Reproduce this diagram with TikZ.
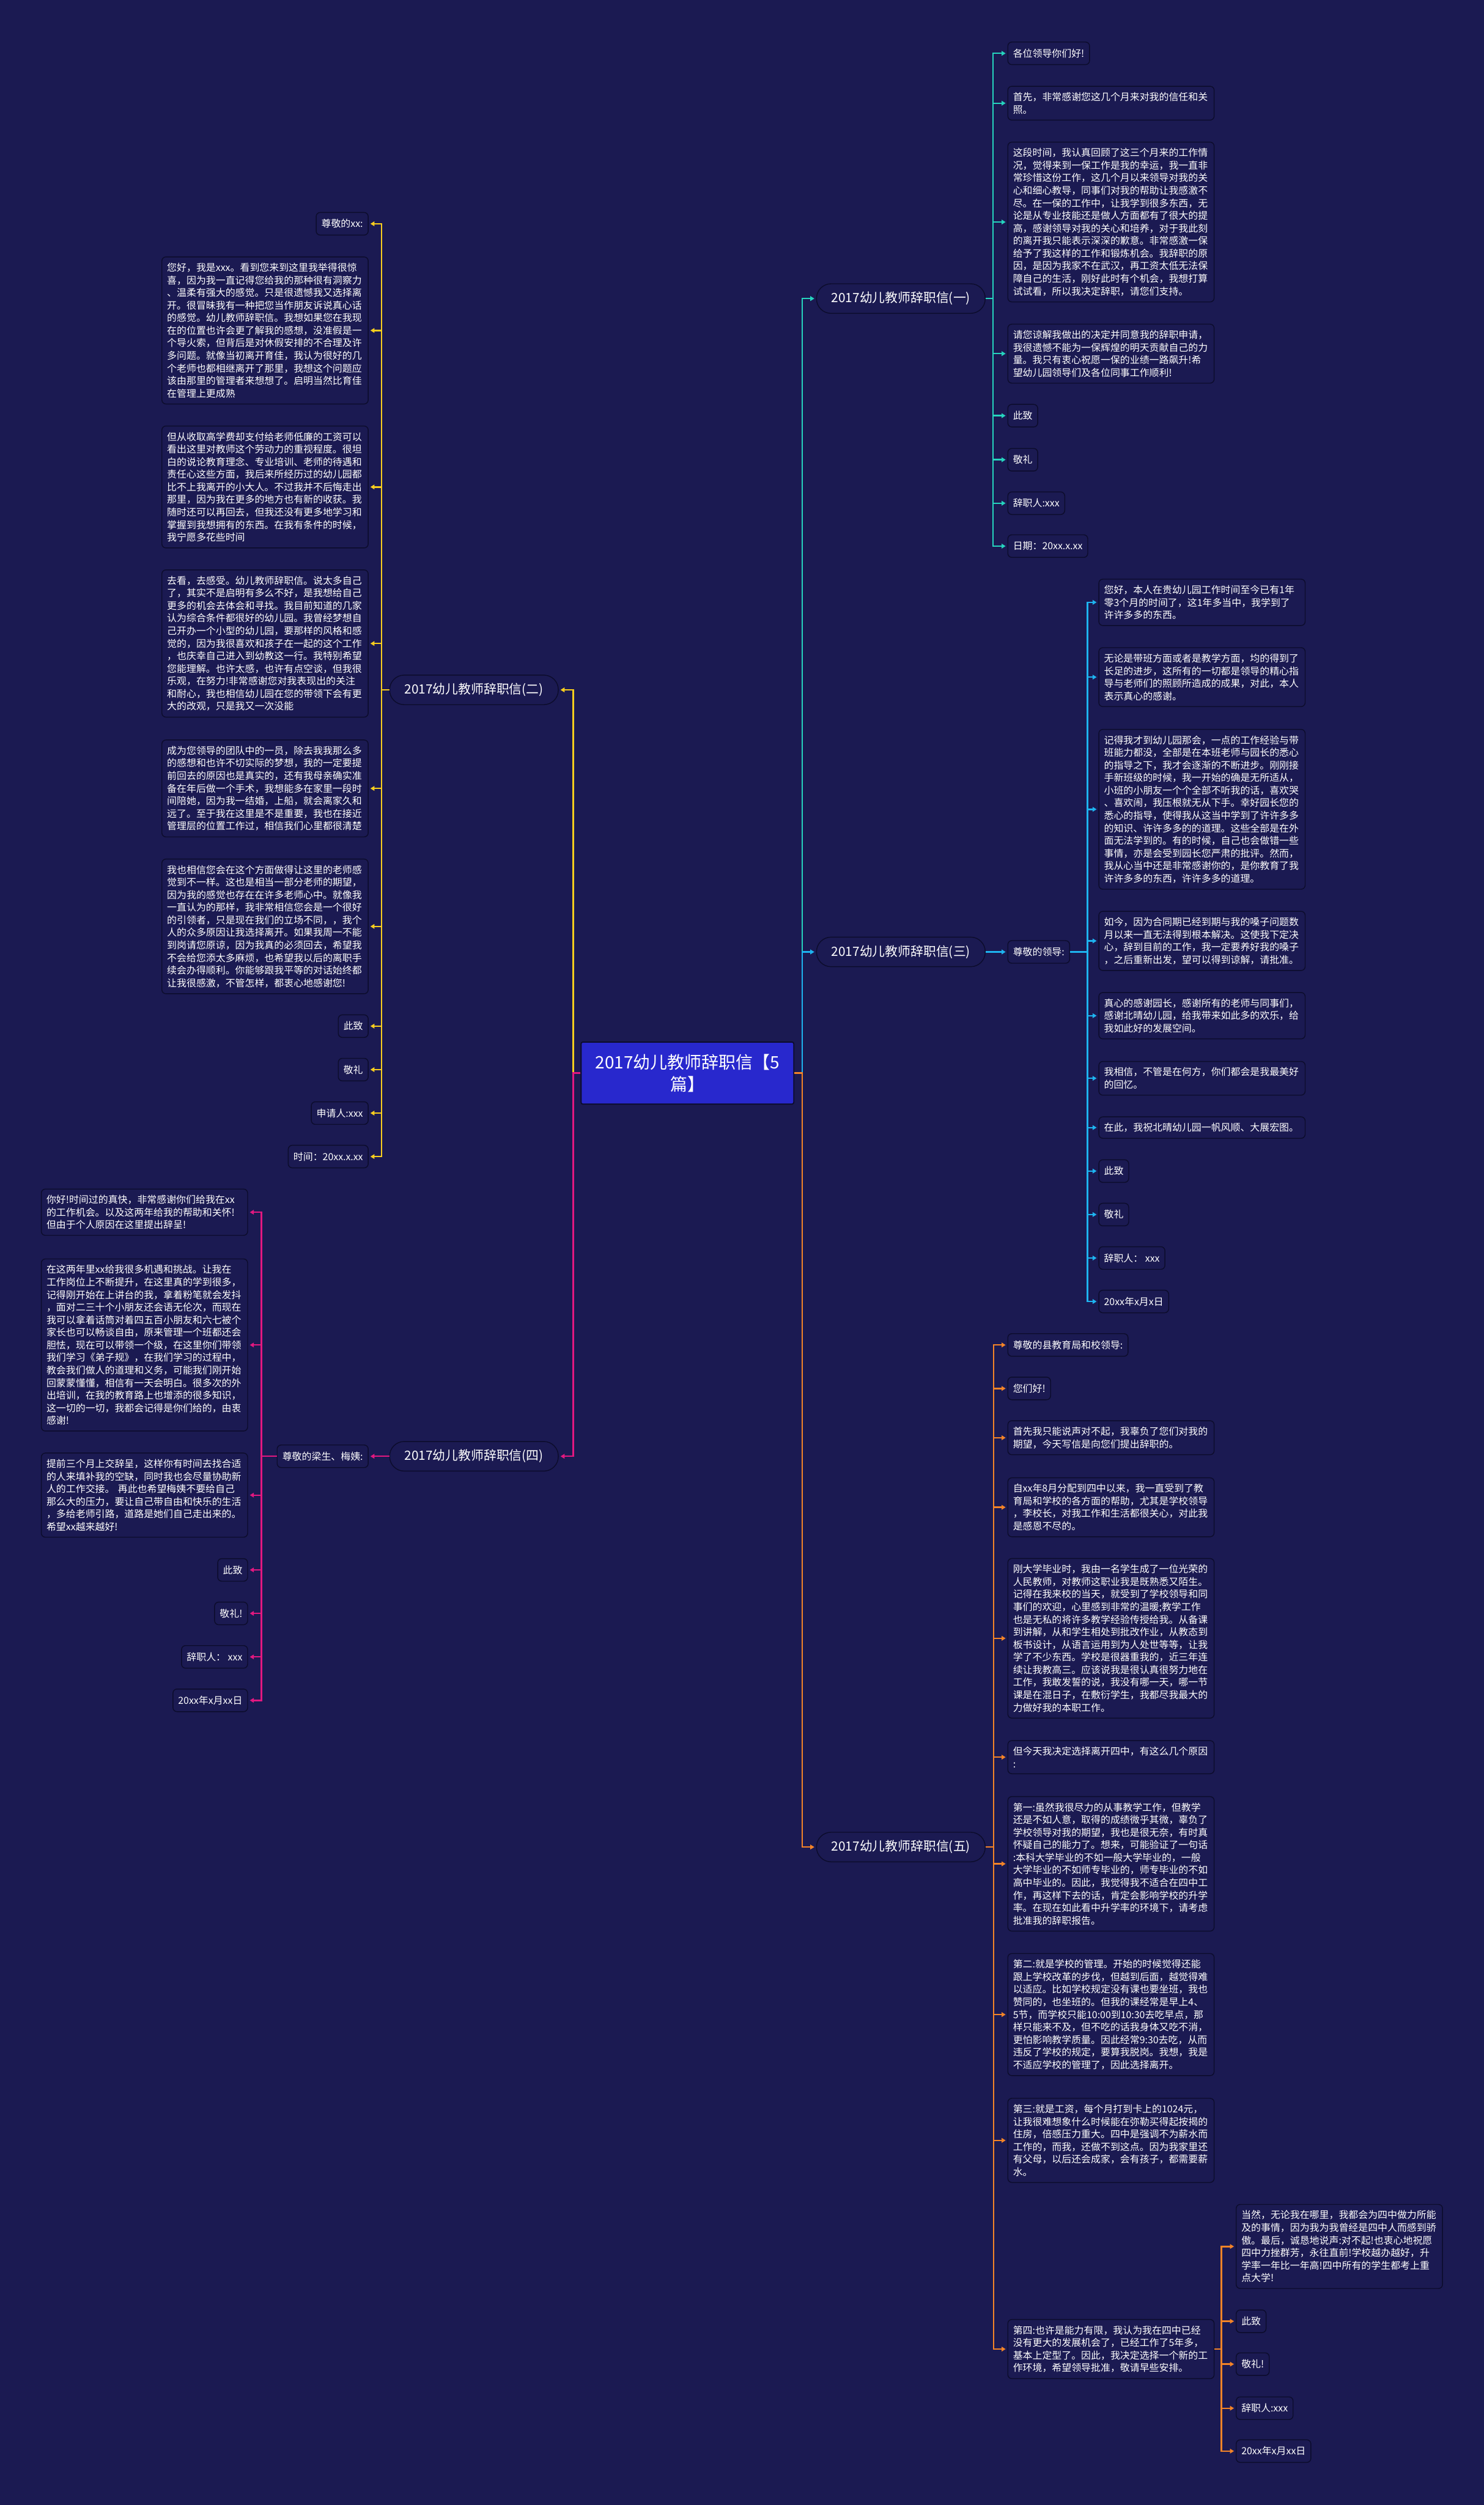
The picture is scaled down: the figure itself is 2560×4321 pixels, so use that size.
\documentclass[tikz,border=0pt]{standalone}
\usepackage{fontspec}
\setmainfont{Noto Sans CJK SC}
\usepackage{tikz}
\usetikzlibrary{arrows.meta}
\definecolor{bgblue}{RGB}{27,26,82}
\definecolor{boxline}{RGB}{12,12,44}
\definecolor{titleblue}{RGB}{40,40,205}
\definecolor{tealc}{RGB}{38,212,190}
\definecolor{skyc}{RGB}{30,180,240}
\definecolor{yellowc}{RGB}{248,206,30}
\definecolor{pinkc}{RGB}{226,24,128}
\definecolor{orangec}{RGB}{244,132,40}

\begin{document}
\begin{tikzpicture}[x=1pt,y=-1pt]
\fill[bgblue] (0,0) rectangle (2560,4321);
\useasboundingbox (0,0) rectangle (2560,4321);
\coordinate (sR) at (1384,0);
\coordinate (sL) at (989,0);
\coordinate (s1) at (1713,0);
\coordinate (s3) at (1876,0);
\coordinate (s5) at (1714,0);
\coordinate (s54) at (2107,0);
\coordinate (s2) at (658,0);
\coordinate (s4) at (451,0);
\begin{scope}[every node/.style={text=white,draw=boxline,fill=bgblue,line width=1.5pt},
              leaf/.style={rounded corners=7pt,inner xsep=9pt,inner ysep=10.5pt,align=left,
                           font=\fontsize{16.8}{21.7}\selectfont},
              wide/.style={leaf,text width=338pt},
              small/.style={leaf,minimum height=39pt},
              topic/.style={rounded corners=25pt,minimum width=291pt,minimum height=51pt,
                            font=\fontsize{22}{26}\selectfont}]
    \node [fill=titleblue,rounded corners=3pt,line width=2pt,minimum width=367pt,minimum height=107pt,
           text width=330pt,align=center,font=\fontsize{29.5}{38}\selectfont] (c) at (1186,1851)
          {2017幼儿教师辞职信【5\\篇】};
    \node [topic,anchor=west] (b1) at (1408,515) {2017幼儿教师辞职信(一)};
    \node [topic,anchor=west] (b3) at (1408,1642) {2017幼儿教师辞职信(三)};
    \node [topic,anchor=west] (b5) at (1408,3186) {2017幼儿教师辞职信(五)};
    \node [topic,anchor=east] (b2) at (964,1190) {2017幼儿教师辞职信(二)};
    \node [topic,anchor=east] (b4) at (964,2512) {2017幼儿教师辞职信(四)};
    % (一)
    \node [small,anchor=west] (l1a) at (1738,92) {各位领导你们好!};
    \node [wide,anchor=west] (l1b) at (1738,178) {首先，非常感谢您这几个月来对我的信任和关\\照。};
    \node [wide,anchor=west] (l1c) at (1738,383) {这段时间，我认真回顾了这三个月来的工作情\\况，觉得来到一保工作是我的幸运，我一直非\\常珍惜这份工作，这几个月以来领导对我的关\\心和细心教导，同事们对我的帮助让我感激不\\尽。在一保的工作中，让我学到很多东西，无\\论是从专业技能还是做人方面都有了很大的提\\高，感谢领导对我的关心和培养，对于我此刻\\的离开我只能表示深深的歉意。非常感激一保\\给予了我这样的工作和锻炼机会。我辞职的原\\因，是因为我家不在武汉，再工资太低无法保\\障自己的生活，刚好此时有个机会，我想打算\\试试看，所以我决定辞职，请您们支持。};
    \node [wide,anchor=west] (l1d) at (1738,610) {请您谅解我做出的决定并同意我的辞职申请，\\我很遗憾不能为一保辉煌的明天贡献自己的力\\量。我只有衷心祝愿一保的业绩一路飙升!希\\望幼儿园领导们及各位同事工作顺利!};
    \node [small,anchor=west] (l1e) at (1738,717) {此致};
    \node [small,anchor=west] (l1f) at (1738,793) {敬礼};
    \node [small,anchor=west] (l1g) at (1738,868) {辞职人:xxx};
    \node [small,anchor=west] (l1h) at (1738,942) {日期：20xx.x.xx};
    % (三)
    \node [small,anchor=west] (l3o) at (1738,1642) {尊敬的领导:};
    \node [wide,anchor=west] (l3a) at (1895,1039) {您好，本人在贵幼儿园工作时间至今已有1年\\零3个月的时间了，这1年多当中，我学到了\\许许多多的东西。};
    \node [wide,anchor=west] (l3b) at (1895,1168) {无论是带班方面或者是教学方面，均的得到了\\长足的进步，这所有的一切都是领导的精心指\\导与老师们的照顾所造成的成果，对此，本人\\表示真心的感谢。};
    \node [wide,anchor=west] (l3c) at (1895,1396) {记得我才到幼儿园那会，一点的工作经验与带\\班能力都没，全部是在本班老师与园长的悉心\\的指导之下，我才会逐渐的不断进步。刚刚接\\手新班级的时候，我一开始的确是无所适从，\\小班的小朋友一个个全部不听我的话，喜欢哭\\、喜欢闹，我压根就无从下手。幸好园长您的\\悉心的指导，使得我从这当中学到了许许多多\\的知识、许许多多的的道理。这些全部是在外\\面无法学到的。有的时候，自己也会做错一些\\事情，亦是会受到园长您严肃的批评。然而，\\我从心当中还是非常感谢你的，是你教育了我\\许许多多的东西，许许多多的道理。};
    \node [wide,anchor=west] (l3d) at (1895,1623) {如今，因为合同期已经到期与我的嗓子问题数\\月以来一直无法得到根本解决。这使我下定决\\心，辞到目前的工作，我一定要养好我的嗓子\\，之后重新出发，望可以得到谅解，请批准。};
    \node [wide,anchor=west] (l3e) at (1895,1752) {真心的感谢园长，感谢所有的老师与同事们，\\感谢北晴幼儿园，给我带来如此多的欢乐，给\\我如此好的发展空间。};
    \node [wide,anchor=west] (l3f) at (1895,1860) {我相信，不管是在何方，你们都会是我最美好\\的回忆。};
    \node [wide,anchor=west] (l3g) at (1895,1945) {在此，我祝北晴幼儿园一帆风顺、大展宏图。};
    \node [small,anchor=west] (l3h) at (1895,2020) {此致};
    \node [small,anchor=west] (l3i) at (1895,2095) {敬礼};
    \node [small,anchor=west] (l3j) at (1895,2170) {辞职人： xxx};
    \node [small,anchor=west] (l3k) at (1895,2245) {20xx年x月x日};
    % (五)
    \node [small,anchor=west] (l5a) at (1738,2320) {尊敬的县教育局和校领导:};
    \node [small,anchor=west] (l5b) at (1738,2395) {您们好!};
    \node [wide,anchor=west] (l5c) at (1738,2480) {首先我只能说声对不起，我辜负了您们对我的\\期望，今天写信是向您们提出辞职的。};
    \node [wide,anchor=west] (l5d) at (1738,2600) {自xx年8月分配到四中以来，我一直受到了教\\育局和学校的各方面的帮助，尤其是学校领导\\，李校长，对我工作和生活都很关心，对此我\\是感恩不尽的。};
    \node [wide,anchor=west] (l5e) at (1738,2826) {刚大学毕业时，我由一名学生成了一位光荣的\\人民教师，对教师这职业我是既熟悉又陌生。\\记得在我来校的当天，就受到了学校领导和同\\事们的欢迎，心里感到非常的温暖;教学工作\\也是无私的将许多教学经验传授给我。从备课\\到讲解，从和学生相处到批改作业，从教态到\\板书设计，从语言运用到为人处世等等，让我\\学了不少东西。学校是很器重我的，近三年连\\续让我教高三。应该说我是很认真很努力地在\\工作，我敢发誓的说，我没有哪一天，哪一节\\课是在混日子，在敷衍学生，我都尽我最大的\\力做好我的本职工作。};
    \node [wide,anchor=west] (l5f) at (1738,3031) {但今天我决定选择离开四中，有这么几个原因\\:};
    \node [wide,anchor=west] (l5g) at (1738,3215) {第一:虽然我很尽力的从事教学工作，但教学\\还是不如人意，取得的成绩微乎其微，辜负了\\学校领导对我的期望，我也是很无奈，有时真\\怀疑自己的能力了。想来，可能验证了一句话\\:本科大学毕业的不如一般大学毕业的，一般\\大学毕业的不如师专毕业的，师专毕业的不如\\高中毕业的。因此，我觉得我不适合在四中工\\作，再这样下去的话，肯定会影响学校的升学\\率。在现在如此看中升学率的环境下，请考虑\\批准我的辞职报告。};
    \node [wide,anchor=west] (l5h) at (1738,3475) {第二:就是学校的管理。开始的时候觉得还能\\跟上学校改革的步伐，但越到后面，越觉得难\\以适应。比如学校规定没有课也要坐班，我也\\赞同的，也坐班的。但我的课经常是早上4、\\5节，而学校只能10:00到10:30去吃早点，那\\样只能来不及，但不吃的话我身体又吃不消，\\更怕影响教学质量。因此经常9:30去吃，从而\\违反了学校的规定，要算我脱岗。我想，我是\\不适应学校的管理了，因此选择离开。};
    \node [wide,anchor=west] (l5i) at (1738,3692) {第三:就是工资，每个月打到卡上的1024元，\\让我很难想象什么时候能在弥勒买得起按揭的\\住房，倍感压力重大。四中是强调不为薪水而\\工作的，而我，还做不到这点。因为我家里还\\有父母，以后还会成家，会有孩子，都需要薪\\水。};
    \node [wide,anchor=west] (l5j) at (1738,4052) {第四:也许是能力有限，我认为我在四中已经\\没有更大的发展机会了，已经工作了5年多，\\基本上定型了。因此，我决定选择一个新的工\\作环境，希望领导批准，敬请早些安排。};
    \node [wide,anchor=west] (l5k) at (2132,3875) {当然，无论我在哪里，我都会为四中做力所能\\及的事情，因为我为我曾经是四中人而感到骄\\傲。最后，诚恳地说声:对不起!也衷心地祝愿\\四中力挫群芳，永往直前!学校越办越好，升\\学率一年比一年高!四中所有的学生都考上重\\点大学!};
    \node [small,anchor=west] (l5l) at (2132,4004) {此致};
    \node [small,anchor=west] (l5m) at (2132,4078) {敬礼!};
    \node [small,anchor=west] (l5n) at (2132,4154) {辞职人:xxx};
    \node [small,anchor=west] (l5o) at (2132,4228) {20xx年x月xx日};
    % (二)
    \node [small,anchor=east] (l2a) at (636,386) {尊敬的xx:};
    \node [wide,anchor=east] (l2b) at (636,570) {您好，我是xxx。看到您来到这里我举得很惊\\喜，因为我一直记得您给我的那种很有洞察力\\、温柔有强大的感觉。只是很遗憾我又选择离\\开。很冒昧我有一种把您当作朋友诉说真心话\\的感觉。幼儿教师辞职信。我想如果您在我现\\在的位置也许会更了解我的感想，没准假是一\\个导火索，但背后是对休假安排的不合理及许\\多问题。就像当初离开育佳，我认为很好的几\\个老师也都相继离开了那里，我想这个问题应\\该由那里的管理者来想想了。启明当然比育佳\\在管理上更成熟};
    \node [wide,anchor=east] (l2c) at (636,840) {但从收取高学费却支付给老师低廉的工资可以\\看出这里对教师这个劳动力的重视程度。很坦\\白的说论教育理念、专业培训、老师的待遇和\\责任心这些方面，我后来所经历过的幼儿园都\\比不上我离开的小大人。不过我并不后悔走出\\那里，因为我在更多的地方也有新的收获。我\\随时还可以再回去，但我还没有更多地学习和\\掌握到我想拥有的东西。在我有条件的时候，\\我宁愿多花些时间};
    \node [wide,anchor=east] (l2d) at (636,1110) {去看，去感受。幼儿教师辞职信。说太多自己\\了，其实不是启明有多么不好，是我想给自己\\更多的机会去体会和寻找。我目前知道的几家\\认为综合条件都很好的幼儿园。我曾经梦想自\\己开办一个小型的幼儿园，要那样的风格和感\\觉的，因为我很喜欢和孩子在一起的这个工作\\，也庆幸自己进入到幼教这一行。我特别希望\\您能理解。也许太感，也许有点空谈，但我很\\乐观，在努力!非常感谢您对我表现出的关注\\和耐心，我也相信幼儿园在您的带领下会有更\\大的改观，只是我又一次没能};
    \node [wide,anchor=east] (l2e) at (636,1360) {成为您领导的团队中的一员，除去我我那么多\\的感想和也许不切实际的梦想，我的一定要提\\前回去的原因也是真实的，还有我母亲确实准\\备在年后做一个手术，我想能多在家里一段时\\间陪她，因为我一结婚，上船，就会离家久和\\远了。至于我在这里是不是重要，我也在接近\\管理层的位置工作过，相信我们心里都很清楚};
    \node [wide,anchor=east] (l2f) at (636,1598) {我也相信您会在这个方面做得让这里的老师感\\觉到不一样。这也是相当一部分老师的期望，\\因为我的感觉也存在在许多老师心中。就像我\\一直认为的那样，我非常相信您会是一个很好\\的引领者，只是现在我们的立场不同，，我个\\人的众多原因让我选择离开。如果我周一不能\\到岗请您原谅，因为我真的必须回去，希望我\\不会给您添太多麻烦，也希望我以后的离职手\\续会办得顺利。你能够跟我平等的对话始终都\\让我很感激，不管怎样，都衷心地感谢您!};
    \node [small,anchor=east] (l2g) at (636,1770) {此致};
    \node [small,anchor=east] (l2h) at (636,1845) {敬礼};
    \node [small,anchor=east] (l2i) at (636,1920) {申请人:xxx};
    \node [small,anchor=east] (l2j) at (636,1995) {时间：20xx.x.xx};
    % (四)
    \node [small,anchor=east] (l4o) at (636,2512) {尊敬的梁生、梅姨:};
    \node [wide,anchor=east] (l4a) at (428,2091) {你好!时间过的真快，非常感谢你们给我在xx\\的工作机会。以及这两年给我的帮助和关怀!\\但由于个人原因在这里提出辞呈!};
    \node [wide,anchor=east] (l4b) at (428,2320) {在这两年里xx给我很多机遇和挑战。让我在\\工作岗位上不断提升，在这里真的学到很多，\\记得刚开始在上讲台的我，拿着粉笔就会发抖\\，面对二三十个小朋友还会语无伦次，而现在\\我可以拿着话筒对着四五百小朋友和六七被个\\家长也可以畅谈自由，原来管理一个班都还会\\胆怯，现在可以带领一个级，在这里你们带领\\我们学习《弟子规》，在我们学习的过程中，\\教会我们做人的道理和义务，可能我们刚开始\\回蒙蒙懂懂，相信有一天会明白。很多次的外\\出培训，在我的教育路上也增添的很多知识，\\这一切的一切，我都会记得是你们给的，由衷\\感谢!};
    \node [wide,anchor=east] (l4c) at (428,2579) {提前三个月上交辞呈，这样你有时间去找合适\\的人来填补我的空缺，同时我也会尽量协助新\\人的工作交接。 再此也希望梅姨不要给自己\\那么大的压力，要让自己带自由和快乐的生活\\，多给老师引路，道路是她们自己走出来的。\\希望xx越来越好!};
    \node [small,anchor=east] (l4d) at (428,2708) {此致};
    \node [small,anchor=east] (l4e) at (428,2783) {敬礼!};
    \node [small,anchor=east] (l4f) at (428,2858) {辞职人： xxx};
    \node [small,anchor=east] (l4g) at (428,2933) {20xx年x月xx日};
\end{scope}
\begin{scope}[>={Triangle[length=7pt,width=8pt]},line width=2.6pt,shorten >=3pt,
              elbow/.style={to path={-- (#1 |- \tikztostart) |- (\tikztotarget)}},
              teal_edge/.style={draw=tealc},
              sky_edge/.style={draw=skyc},
              orange_edge/.style={draw=orangec},
              yellow_edge/.style={draw=yellowc},
              pink_edge/.style={draw=pinkc}]
    \path [->] (c) edge [teal_edge,elbow=sR] (b1);
    \path [->] (c) edge [sky_edge,elbow=sR] (b3);
    \path [->] (c) edge [orange_edge,elbow=sR] (b5);
    \path [->] (c) edge [yellow_edge,elbow=sL] (b2);
    \path [->] (c) edge [pink_edge,elbow=sL] (b4);
    \foreach \n in {l1a,l1b,l1c,l1d,l1e,l1f,l1g,l1h}
        \path [->] (b1) edge [teal_edge,elbow=s1] (\n);
    \path [->] (b3) edge [sky_edge] (l3o);
    \foreach \n in {l3a,l3b,l3c,l3d,l3e,l3f,l3g,l3h,l3i,l3j,l3k}
        \path [->] (l3o) edge [sky_edge,elbow=s3] (\n);
    \foreach \n in {l5a,l5b,l5c,l5d,l5e,l5f,l5g,l5h,l5i,l5j}
        \path [->] (b5) edge [orange_edge,elbow=s5] (\n);
    \foreach \n in {l5k,l5l,l5m,l5n,l5o}
        \path [->] (l5j) edge [orange_edge,elbow=s54] (\n);
    \foreach \n in {l2a,l2b,l2c,l2d,l2e,l2f,l2g,l2h,l2i,l2j}
        \path [->] (b2) edge [yellow_edge,elbow=s2] (\n);
    \path [->] (b4) edge [pink_edge] (l4o);
    \foreach \n in {l4a,l4b,l4c,l4d,l4e,l4f,l4g}
        \path [->] (l4o) edge [pink_edge,elbow=s4] (\n);
\end{scope}
\end{tikzpicture}
\end{document}
